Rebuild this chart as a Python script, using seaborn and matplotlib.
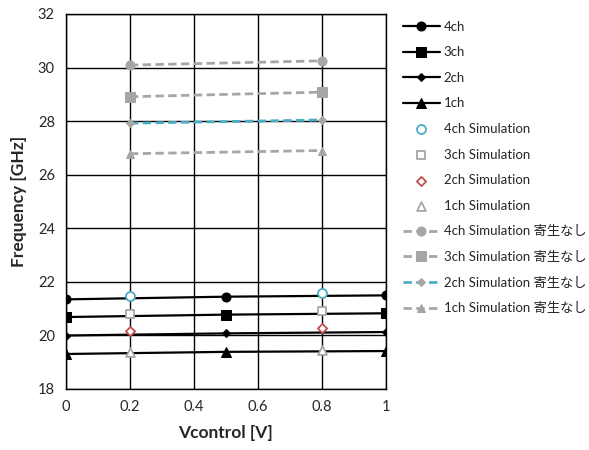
import matplotlib
matplotlib.use('Agg')
import matplotlib.pyplot as plt
import seaborn as sns

# ── Data ────────────────────────────────────────────────────────────────────
V_MEAS = [0.0, 0.5, 1.0]
V_SIM = [0.2, 0.8]

MEAS_4CH = [21.34, 21.44, 21.49]
MEAS_3CH = [20.68, 20.77, 20.82]
MEAS_2CH = [19.99, 20.07, 20.12]
MEAS_1CH = [19.30, 19.38, 19.41]

SIM_4CH = [21.47, 21.59]
SIM_3CH = [20.79, 20.92]
SIM_2CH = [20.17, 20.27]
SIM_1CH = [19.38, 19.44]

NOPAR_4CH = [30.09, 30.25]
NOPAR_3CH = [28.91, 29.08]
NOPAR_2CH = [27.92, 28.04]
NOPAR_1CH = [26.78, 26.90]

Y_TICKS = [18, 20, 22, 24, 26, 28, 30, 32]
X_TICKS = [0, 0.2, 0.4, 0.6, 0.8, 1]
X_TICKLABELS = ['0', '0.2', '0.4', '0.6', '0.8', '1']

# ── Colours ─────────────────────────────────────────────────────────────────
BLACK = '#000000'
GREY = '#a6a6a6'
CYAN = '#4bacc6'
RED = '#c0504d'

sns.set_style('white')
plt.rcParams['font.family'] = ['Lato', 'Noto Sans CJK JP', 'DejaVu Sans']

fig = plt.figure(figsize=(5.89, 4.5), dpi=100)
ax = fig.add_axes([0.112, 0.136, 0.543, 0.833])

# measured
meas = [(MEAS_4CH, '4ch', 'o', 6.5), (MEAS_3CH, '3ch', 's', 6.5),
        (MEAS_2CH, '2ch', 'D', 4), (MEAS_1CH, '1ch', '^', 6.5)]
for vals, lab, mk, ms in meas:
    sns.lineplot(x=V_MEAS, y=vals, ax=ax, color=BLACK, marker=mk,
                 markersize=ms, linewidth=1.6, label=lab,
                 markeredgecolor=BLACK)

# simulation (open markers)
sims = [(SIM_4CH, '4ch Simulation', 'o', CYAN, 42),
        (SIM_3CH, '3ch Simulation', 's', GREY, 40),
        (SIM_2CH, '2ch Simulation', 'D', RED, 22),
        (SIM_1CH, '1ch Simulation', '^', GREY, 40)]
for vals, lab, mk, col, s in sims:
    sns.scatterplot(x=V_SIM, y=vals, ax=ax, marker=mk, s=s,
                    facecolor='white', edgecolor=col, linewidth=1.3,
                    label=lab, zorder=5)

# simulation without parasitics
nopar = [(NOPAR_4CH, '4ch Simulation 寄生なし', 'o', GREY, 6.5),
         (NOPAR_3CH, '3ch Simulation 寄生なし', 's', GREY, 6.5),
         (NOPAR_2CH, '2ch Simulation 寄生なし', 'D', CYAN, 4.5),
         (NOPAR_1CH, '1ch Simulation 寄生なし', '^', GREY, 6)]
for vals, lab, mk, col, ms in nopar:
    sns.lineplot(x=V_SIM, y=vals, ax=ax, color=col, marker=mk,
                 markersize=ms, linewidth=2.0, linestyle=(0, (3, 1.6)),
                 markerfacecolor=GREY, markeredgecolor=GREY, label=lab)

ax.set_xlim(0, 1)
ax.set_ylim(18, 32)
ax.set_xticks(X_TICKS)
ax.set_xticklabels(X_TICKLABELS)
ax.set_yticks(Y_TICKS)
ax.tick_params(axis='both', labelsize=10.5, length=0, pad=8)
ax.grid(True, color=BLACK, linewidth=1.0)
ax.set_axisbelow(True)
for sp in ax.spines.values():
    sp.set_color(BLACK)
    sp.set_linewidth(1.0)

ax.set_xlabel('Vcontrol [V]', fontsize=12.5, fontweight='bold', labelpad=8)
ax.set_ylabel('Frequency [GHz]', fontsize=12.5, fontweight='bold', labelpad=8)

leg = ax.legend(loc='upper left', bbox_to_anchor=(0.675, 0.966),
                bbox_transform=fig.transFigure, frameon=False,
                fontsize=9.5, handlelength=2.8, handletextpad=0.3,
                labelspacing=1.03, borderaxespad=0)

fig.savefig('out.png', dpi=100)
